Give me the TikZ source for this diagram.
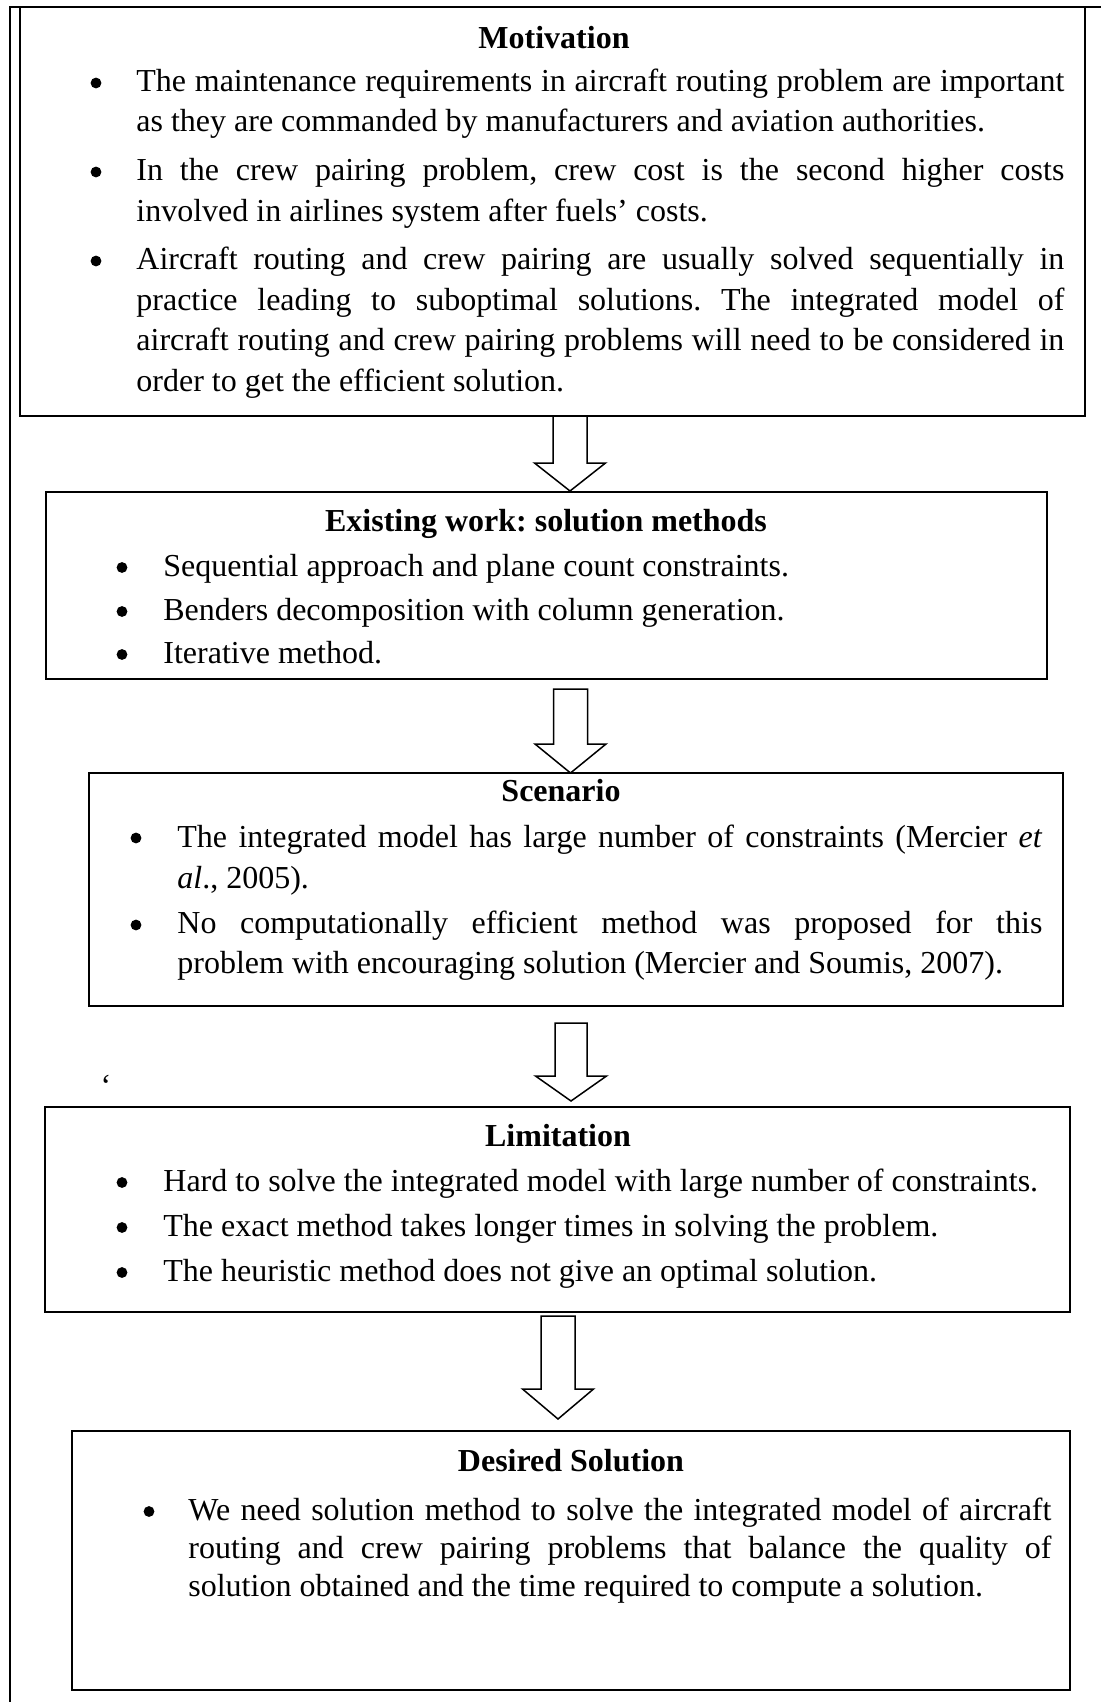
\documentclass[tikz,border=0pt]{standalone}
\usepackage{fontspec}
\setmainfont{Liberation Serif}
\usetikzlibrary{calc}
\frenchspacing
\tikzset{
  box/.style={draw, line width=1pt, inner sep=0pt},
  txt/.style={inner sep=0pt, anchor=base west, font=\fontsize{16}{19}\selectfont\frenchspacing},
  ttl/.style={inner sep=0pt, anchor=base, font=\fontsize{16}{19}\selectfont\bfseries},
  bul/.style={circle, fill=black, inner sep=0pt, minimum size=5.4pt},
  quotemark/.style={inner sep=0pt, anchor=base, font=\fontsize{16}{19}\selectfont},
  arrline/.style={draw, line width=0.75pt, fill=white, line join=miter},
  frameline/.style={line width=0.9pt},
}
\newcommand\J[2]{\makebox[#1][s]{#2}}
\newcommand\blockarr[4]{%
  \draw[arrline] ($(#1)+(-#3,0)$) -- ($(#2)+(-#3,-#4)$) -- ($(#2)+(-35.5,-#4)$) -- (#2)
    -- ($(#2)+(35.5,-#4)$) -- ($(#2)+(#3,-#4)$) -- ($(#1)+(#3,0)$) -- cycle;}
\begin{document}
\begin{tikzpicture}[x=0.5pt,y=-0.5pt]
\fill[white] (0,0) rectangle (1101,1702);
\useasboundingbox (0,0) rectangle (1101,1702);
% outer frame
\draw[frameline] (1101,7) -- (10,7) -- (10,1702);
% boxes
\node[box, minimum width=532.5pt, minimum height=204.5pt] (b1) at (552.5,211.5) {};
\node[box, minimum width=500.5pt, minimum height=93.5pt] (b2) at (546.5,585.5) {};
\node[box, minimum width=487pt, minimum height=116.5pt] (b3) at (576,889.5) {};
\node[box, minimum width=512.5pt, minimum height=102.5pt] (b4) at (557.5,1209.5) {};
\node[box, minimum width=499pt, minimum height=129.5pt] (b5) at (571,1560.5) {};
% arrows
\coordinate (a1s) at (570,416);   \coordinate (a1e) at (570,491);
\coordinate (a2s) at (570.5,689); \coordinate (a2e) at (570.5,773);
\coordinate (a3s) at (571,1023);  \coordinate (a3e) at (571,1101);
\coordinate (a4s) at (558,1316);  \coordinate (a4e) at (558,1419);
\blockarr{a1s}{a1e}{17}{28}
\blockarr{a2s}{a2e}{17}{29}
\blockarr{a3s}{a3e}{16}{25}
\blockarr{a4s}{a4e}{17}{30}
% box 1
\node[ttl] (t1) at (554,49) {Motivation};
\node[bul] (p1a) at (96,83) {};
\node[bul] (p1b) at (96,172) {};
\node[bul] (p1c) at (96,261) {};
\node[txt] (m1) at (136,91.5) {\J{464pt}{The maintenance requirements in aircraft routing problem are important}};
\node[txt] (m2) at (136,132) {as they are commanded by manufacturers and aviation authorities.};
\node[txt] (m3) at (136,180.5) {\J{464pt}{In the crew pairing problem, crew cost is the second higher costs}};
\node[txt] (m4) at (136,221) {involved in airlines system after fuels’ costs.};
\node[txt] (m5) at (136,269.5) {\J{464pt}{Aircraft routing and crew pairing are usually solved sequentially in}};
\node[txt] (m6) at (136,310) {\J{464pt}{practice leading to suboptimal solutions. The integrated model of}};
\node[txt] (m7) at (136,350.5) {\J{464pt}{aircraft routing and crew pairing problems will need to be considered in}};
\node[txt] (m8) at (136,391) {order to get the efficient solution.};
% box 2
\node[ttl] (t2) at (546,531) {Existing work: solution methods};
\node[bul] (p2a) at (122,567.5) {};
\node[bul] (p2b) at (122,611.5) {};
\node[bul] (p2c) at (122,654.5) {};
\node[txt] (e1) at (163,576) {Sequential approach and plane count constraints.};
\node[txt] (e2) at (163,620) {Benders decomposition with column generation.};
\node[txt] (e3) at (163,663) {Iterative method.};
% box 3
\node[ttl] (t3) at (561,801) {Scenario};
\node[bul] (p3a) at (136,838) {};
\node[bul] (p3b) at (136,925) {};
\node[txt] (s1) at (177,847) {\J{432.5pt}{The integrated model has large number of constraints (Mercier \textit{et}}};
\node[txt] (s2) at (177,888) {\textit{al}., 2005).};
\node[txt] (s3) at (177,933) {\J{432.5pt}{No computationally efficient method was proposed for this}};
\node[txt] (s4) at (177,973) {problem with encouraging solution (Mercier and Soumis, 2007).};
% stray mark
\node[quotemark] (q) at (106,1096) {‘};
% box 4
\node[ttl] (t4) at (558,1146) {Limitation};
\node[bul] (p4a) at (122,1182.5) {};
\node[bul] (p4b) at (122,1227.5) {};
\node[bul] (p4c) at (122,1272.5) {};
\node[txt] (h1) at (163,1191) {Hard to solve the integrated model with large number of constraints.};
\node[txt] (h2) at (163,1236) {The exact method takes longer times in solving the problem.};
\node[txt] (h3) at (163,1281) {The heuristic method does not give an optimal solution.};
% box 5
\node[ttl] (t5) at (571,1471) {Desired Solution};
\node[bul] (p5a) at (149,1511.5) {};
\node[txt] (d1) at (188,1520) {\J{431.5pt}{We need solution method to solve the integrated model of aircraft}};
\node[txt] (d2) at (188,1558) {\J{431.5pt}{routing and crew pairing problems that balance the quality of}};
\node[txt] (d3) at (188,1596) {solution obtained and the time required to compute a solution.};
\end{tikzpicture}
\end{document}
